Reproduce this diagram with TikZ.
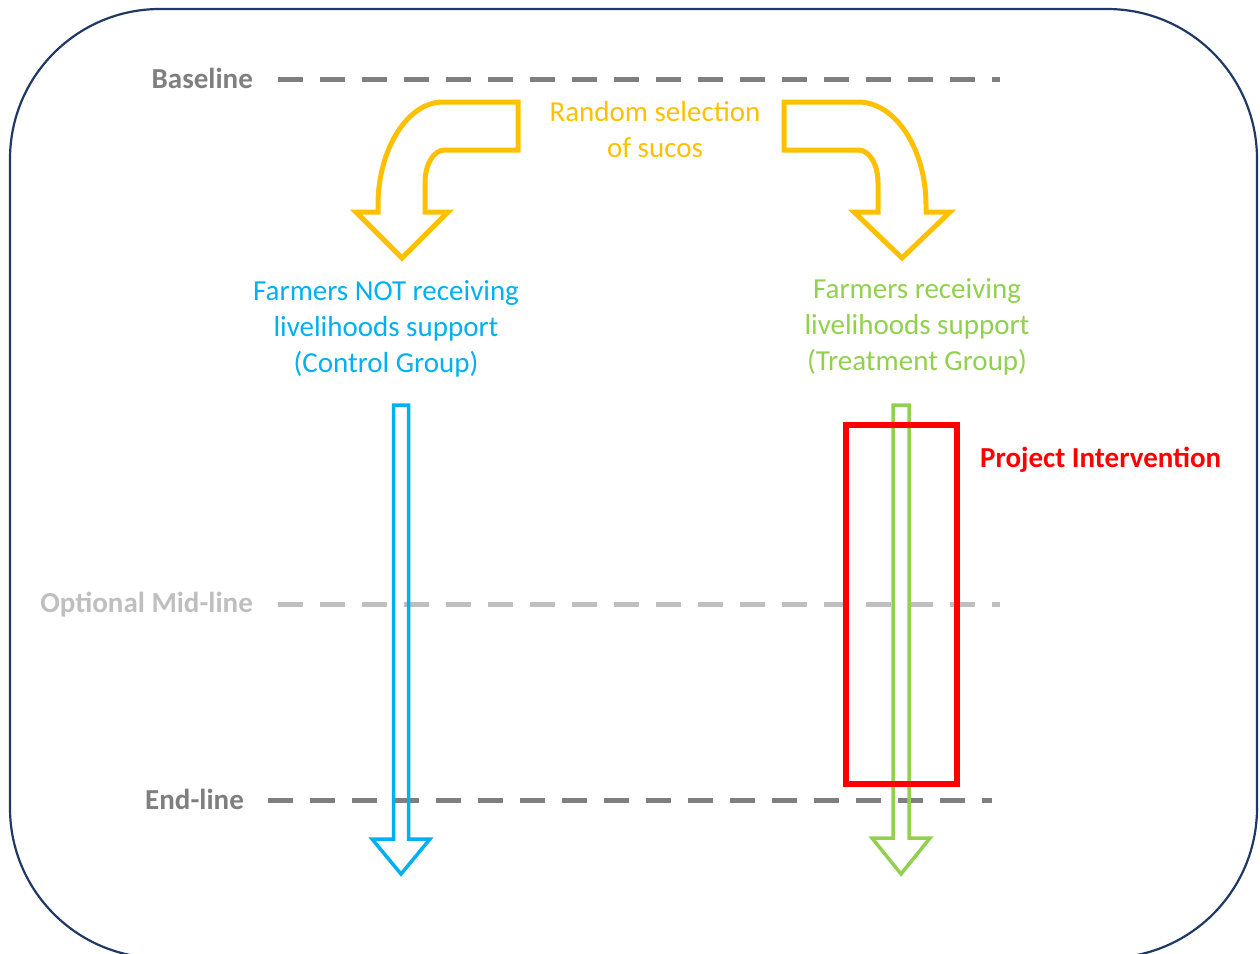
\documentclass[tikz,border=0pt]{standalone}
\usepackage{fontspec}
\setmainfont{Carlito}
\definecolor{frame}{HTML}{1F3864}
\definecolor{darkgrey}{HTML}{7F7F7F}
\definecolor{lightgrey}{HTML}{BFBFBF}
\definecolor{amber}{HTML}{FFC000}
\definecolor{skyblue}{HTML}{00B0F0}
\definecolor{leafgreen}{HTML}{92D050}
\definecolor{alertred}{HTML}{FF0000}
\begin{document}
\begin{tikzpicture}[x=1pt,y=-1pt,
  txt/.style={inner sep=0pt,font=\fontsize{29}{36}\selectfont},
  phaselabel/.style={txt,font=\fontsize{29}{36}\selectfont\bfseries,anchor=base east},
  phaseline/.style={line width=5pt,dash pattern=on 25pt off 17pt},
  bentarrow/.style={draw=amber,line width=5pt,line join=miter},
  downarrow/.style={line width=3.5pt,line join=miter}]
\useasboundingbox (0,0) rectangle (1260,953);

% outer frame
\begin{scope}
\clip (0,0) rectangle (1260,953);
\draw[frame,line width=2.2pt,rounded corners=150pt] (10,9) rectangle (1257,958);
\end{scope}

% survey rounds
\node[phaselabel,text=darkgrey] (base) at (253,88) {Baseline};
\coordinate (baseL) at (278,79);
\coordinate (baseR) at (1000,79);
\draw[phaseline,darkgrey] (baseL) -- (baseR);

\node[phaselabel,text=lightgrey] (mid) at (253,612) {Optional Mid-line};
\coordinate (midL) at (278,604);
\coordinate (midR) at (1000,604);
\draw[phaseline,lightgrey] (midL) -- (midR);

\node[phaselabel,text=darkgrey] (end) at (244,809) {End-line};
\coordinate (endL) at (268,800);
\coordinate (endR) at (992,800);
\draw[phaseline,darkgrey] (endL) -- (endR);

% random assignment
\node[txt,text=amber,align=center] (random) at (655,130) {Random selection\\of sucos};

\draw[bentarrow] (518,102) -- (443,102)
  .. controls (407,102) and (378,150) .. (378,205) -- (378,212)
  -- (356,212) -- (402,258) -- (448,212) -- (425,212) -- (425,183)
  .. controls (425,165) and (433,150) .. (445,150) -- (518,150) -- cycle;

\draw[bentarrow] (784,102) -- (858,102)
  .. controls (896,102) and (926,150) .. (926,205) -- (926,212)
  -- (950,212) -- (902,258) -- (854,212) -- (878,212) -- (878,183)
  .. controls (878,165) and (870,150) .. (858,150) -- (784,150) -- cycle;

% groups
\node[txt,text=skyblue,align=center] (control) at (386,329)
  {Farmers NOT receiving\\livelihoods support\\(Control Group)};
\node[txt,text=leafgreen,align=center] (treat) at (917,327)
  {Farmers receiving\\livelihoods support\\(Treatment Group)};

% timelines of the two groups
\draw[downarrow,skyblue] (393.5,405) -- (408.5,405) -- (408.5,839) -- (430,839)
  -- (401,874) -- (372,839) -- (393.5,839) -- cycle;
\draw[downarrow,leafgreen] (893,405) -- (909,405) -- (909,838) -- (930,838)
  -- (901,874) -- (872,838) -- (893,838) -- cycle;

% intervention period
\draw[alertred,line width=5.5pt] (846,425) rectangle (957,784);
\node[txt,font=\fontsize{29}{36}\selectfont\bfseries,text=alertred,anchor=base west] (proj) at (980,467) {Project Intervention};
\end{tikzpicture}
\end{document}
